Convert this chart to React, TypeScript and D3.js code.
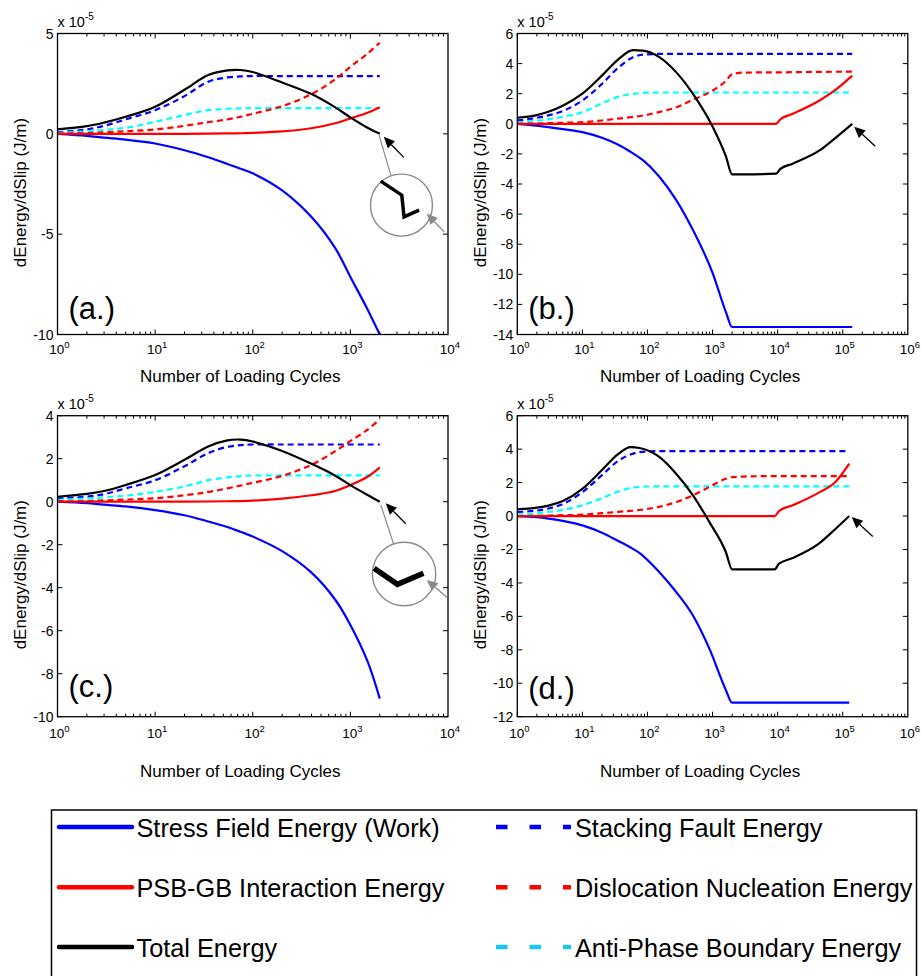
import { useEffect, useRef } from 'react';
import * as d3 from 'd3';

// values are dEnergy/dSlip in units of 1e-5 J/m
const cyclesA = [1, 2, 3, 5, 10, 20, 35, 55, 75, 100, 200, 400, 700, 1000, 1500, 2000];
const stressA = [0, -0.1, -0.19, -0.29, -0.48, -0.82, -1.17, -1.5, -1.74, -1.97, -2.82, -4.15, -5.7, -7.13, -8.75, -10];
const psbA = [0, 0, 0, 0, 0, 0, 0.01, 0.02, 0.03, 0.05, 0.12, 0.28, 0.53, 0.77, 1.05, 1.32];
const totalA = [0.22, 0.38, 0.56, 0.85, 1.35, 2.2, 2.93, 3.16, 3.18, 3.08, 2.56, 1.98, 1.32, 0.82, 0.3, 0];
const sfA = [0.08, 0.22, 0.4, 0.72, 1.18, 1.88, 2.6, 2.81, 2.86, 2.88, 2.88, 2.88, 2.88, 2.88, 2.88, 2.88];
const dnA = [0, 0.04, 0.08, 0.13, 0.22, 0.4, 0.58, 0.72, 0.85, 1.0, 1.38, 1.98, 2.72, 3.34, 4.0, 4.54];
const apbA = [0.05, 0.12, 0.2, 0.3, 0.6, 0.94, 1.18, 1.25, 1.27, 1.28, 1.28, 1.28, 1.28, 1.28, 1.28, 1.28];

const cyclesB = [1, 2, 3, 5, 10, 20, 35, 60, 85, 150, 280, 500, 1000, 1600, 2000, 3000, 9500, 11000, 17000, 44000, 80000, 140000];
const stressB = [0, -0.13, -0.22, -0.35, -0.55, -0.93, -1.38, -1.97, -2.42, -3.48, -5.1, -7.06, -9.9, -12.5, -13.5, -13.5, -13.5, -13.5, -13.5, -13.5, -13.5, -13.5];
const psbB = [0, 0, 0, 0, 0, 0, 0, 0, 0, 0, 0, 0, 0, 0, 0, 0, 0, 0.3, 0.66, 1.55, 2.3, 3.2];
const totalB = [0.4, 0.58, 0.8, 1.2, 2.0, 3.2, 4.25, 4.9, 4.86, 4.45, 3.4, 1.99, -0.18, -2.15, -3.36, -3.36, -3.31, -3.0, -2.65, -1.77, -0.88, 0];
const sfB = [0.22, 0.4, 0.56, 0.85, 1.55, 2.65, 3.7, 4.42, 4.6, 4.64, 4.64, 4.64, 4.64, 4.64, 4.64, 4.64, 4.64, 4.64, 4.64, 4.64, 4.64, 4.64];
const dnB = [0, 0.02, 0.04, 0.07, 0.11, 0.22, 0.34, 0.46, 0.55, 0.78, 1.1, 1.6, 2.2, 2.85, 3.3, 3.4, 3.42, 3.42, 3.43, 3.45, 3.46, 3.47];
const apbB = [0.09, 0.2, 0.3, 0.47, 0.77, 1.36, 1.79, 1.99, 2.05, 2.08, 2.08, 2.08, 2.08, 2.08, 2.08, 2.08, 2.08, 2.08, 2.08, 2.08, 2.08, 2.08];

const cyclesC = [1, 2, 3, 5, 10, 20, 35, 55, 75, 100, 200, 400, 700, 1000, 1500, 2000];
const stressC = [0, -0.07, -0.14, -0.22, -0.39, -0.63, -0.92, -1.18, -1.4, -1.62, -2.3, -3.3, -4.56, -5.73, -7.43, -9.16];
const psbC = [0, 0, 0, 0, 0, 0, 0.01, 0.02, 0.03, 0.05, 0.14, 0.3, 0.5, 0.77, 1.16, 1.6];
const totalC = [0.23, 0.36, 0.5, 0.78, 1.24, 1.95, 2.57, 2.85, 2.89, 2.8, 2.36, 1.76, 1.21, 0.77, 0.31, 0];
const sfC = [0.15, 0.24, 0.35, 0.62, 1.0, 1.65, 2.26, 2.55, 2.63, 2.66, 2.66, 2.66, 2.66, 2.66, 2.66, 2.66];
const dnC = [0, 0.03, 0.06, 0.1, 0.16, 0.3, 0.45, 0.62, 0.75, 0.88, 1.2, 1.72, 2.35, 2.82, 3.35, 3.84];
const apbC = [0.08, 0.15, 0.2, 0.28, 0.46, 0.71, 1.0, 1.13, 1.19, 1.22, 1.22, 1.22, 1.22, 1.22, 1.22, 1.22];

const cyclesD = [1, 2, 3, 5, 10, 20, 35, 55, 75, 150, 280, 500, 900, 1600, 2000, 3000, 9000, 10500, 17000, 43000, 78000, 126000];
const stressD = [0, -0.07, -0.15, -0.29, -0.56, -1.0, -1.48, -1.88, -2.2, -3.33, -4.57, -5.95, -7.96, -10.4, -11.16, -11.16, -11.16, -11.16, -11.16, -11.16, -11.16, -11.16];
const psbD = [0, 0, 0, 0, 0, 0, 0, 0, 0, 0, 0, 0, 0, 0, 0, 0, 0, 0.3, 0.64, 1.4, 2.05, 3.13];
const totalD = [0.4, 0.5, 0.62, 0.9, 1.63, 2.75, 3.68, 4.12, 4.07, 3.55, 2.5, 1.24, -0.38, -2.15, -3.19, -3.19, -3.19, -2.85, -2.51, -1.65, -0.76, 0];
const sfD = [0.24, 0.33, 0.45, 0.72, 1.43, 2.45, 3.28, 3.68, 3.82, 3.88, 3.88, 3.88, 3.88, 3.88, 3.88, 3.88, 3.88, 3.88, 3.88, 3.88, 3.88, 3.88];
const dnD = [0, 0.01, 0.03, 0.05, 0.08, 0.17, 0.25, 0.31, 0.36, 0.55, 0.84, 1.24, 1.75, 2.23, 2.33, 2.36, 2.39, 2.39, 2.39, 2.39, 2.39, 2.39];
const apbD = [0.08, 0.16, 0.24, 0.37, 0.64, 1.07, 1.45, 1.68, 1.75, 1.77, 1.77, 1.77, 1.77, 1.77, 1.77, 1.77, 1.77, 1.77, 1.77, 1.77, 1.77, 1.77];

const legendLabels = [
  'Stress Field Energy (Work)',
  'PSB-GB Interaction Energy',
  'Total Energy',
  'Stacking Fault Energy',
  'Dislocation Nucleation Energy',
  'Anti-Phase Boundary Energy',
];

const FONT = 'Liberation Sans, Arial, Helvetica, sans-serif';
const BLUE = '#0000ff';
const RED = '#ff0000';
const CYAN = '#00ffff';

const panels = [
  { tag: '(a.)', left: 57.5, top: 33.5, xs: cyclesA, maxExp: 4, yDomain: [-10, 5], yStep: 5,
    s: [stressA, psbA, totalA, sfA, dnA, apbA], inset: 'a', tickDy: 19.5, titleY: 382, tagY: 319 },
  { tag: '(b.)', left: 517.3, top: 33.5, xs: cyclesB, maxExp: 6, yDomain: [-14, 6], yStep: 2,
    s: [stressB, psbB, totalB, sfB, dnB, apbB], inset: null, tickDy: 19.5, titleY: 382, tagY: 319 },
  { tag: '(c.)', left: 57.5, top: 415.7, xs: cyclesC, maxExp: 4, yDomain: [-10, 4], yStep: 2,
    s: [stressC, psbC, totalC, sfC, dnC, apbC], inset: 'c', tickDy: 21.5, titleY: 777, tagY: 697 },
  { tag: '(d.)', left: 517.3, top: 415.7, xs: cyclesD, maxExp: 6, yDomain: [-12, 6], yStep: 2,
    s: [stressD, psbD, totalD, sfD, dnD, apbD], inset: null, tickDy: 21.5, titleY: 777, tagY: 699 },
];

const arrow = (g, tip, tail, color, width, len, half) => {
  const dx = tip[0] - tail[0];
  const dy = tip[1] - tail[1];
  const d = Math.hypot(dx, dy);
  const ux = dx / d;
  const uy = dy / d;
  const bx = tip[0] - ux * len;
  const by = tip[1] - uy * len;
  g.append('line')
    .attr('x1', tail[0]).attr('y1', tail[1])
    .attr('x2', bx).attr('y2', by)
    .attr('stroke', color).attr('stroke-width', width);
  g.append('path')
    .attr('d', `M${tip[0]},${tip[1]}L${bx - uy * half},${by + ux * half}L${bx + uy * half},${by - ux * half}Z`)
    .attr('fill', color);
};

const App = () => {
  const svgRef = useRef(null);

  useEffect(() => {
    const svg = d3.select(svgRef.current);
    svg.selectAll('*').remove();
    const W = 390.5;
    const H = 301;

    panels.forEach((p) => {
      const x = d3.scaleLog().domain([1, 10 ** p.maxExp]).range([p.left, p.left + W]);
      const y = d3.scaleLinear().domain(p.yDomain).range([p.top + H, p.top]);
      const g = svg.append('g');
      const bottom = p.top + H;
      const right = p.left + W;

      // minor + major x ticks (inside, top and bottom)
      for (let e = 0; e < p.maxExp; e++) {
        for (let k = 1; k <= 9; k++) {
          const v = k * 10 ** e;
          const len = k === 1 ? 5 : 3;
          const px = x(v);
          g.append('line').attr('x1', px).attr('x2', px).attr('y1', bottom).attr('y2', bottom - len)
            .attr('stroke', '#000').attr('stroke-width', 1);
          g.append('line').attr('x1', px).attr('x2', px).attr('y1', p.top).attr('y2', p.top + len)
            .attr('stroke', '#000').attr('stroke-width', 1);
        }
      }
      d3.range(0, p.maxExp + 1).forEach((e) => {
        const t = g.append('text')
          .attr('x', x(10 ** e) + 2)
          .attr('y', bottom + p.tickDy)
          .attr('text-anchor', 'middle')
          .attr('font-family', FONT)
          .attr('font-size', 13.5);
        t.append('tspan').text('10');
        t.append('tspan').attr('dy', -6.5).attr('font-size', 9.5).text(String(e));
      });

      const yTicks = d3.range(p.yDomain[0], p.yDomain[1] + 0.001, p.yStep);
      yTicks.forEach((v) => {
        const py = y(v);
        g.append('line').attr('x1', p.left).attr('x2', p.left + 5).attr('y1', py).attr('y2', py)
          .attr('stroke', '#000').attr('stroke-width', 1);
        g.append('line').attr('x1', right).attr('x2', right - 5).attr('y1', py).attr('y2', py)
          .attr('stroke', '#000').attr('stroke-width', 1);
        g.append('text')
          .attr('x', p.left - 4)
          .attr('y', py + 5)
          .attr('text-anchor', 'end')
          .attr('font-family', FONT)
          .attr('font-size', 14)
          .text(String(v));
      });

      // exponent label
      const ex = g.append('text')
        .attr('x', p.left)
        .attr('y', p.top - 6.5)
        .attr('font-family', FONT)
        .attr('font-size', 14.5);
      ex.append('tspan').text('x 10');
      ex.append('tspan').attr('dy', -7).attr('font-size', 10).text('-5');

      // data: smooth curves for the short runs, monotone for the ones with corners
      const line = d3.line()
        .x((d) => x(d[0]))
        .y((d) => y(d[1]))
        .curve(p.maxExp === 4 ? d3.curveCatmullRom.alpha(0.5) : d3.curveMonotoneX);
      const [stress, psb, total, sf, dn, apb] = p.s;
      const series = [
        { v: sf, c: BLUE, dash: '6,4' },
        { v: apb, c: CYAN, dash: '6,4' },
        { v: dn, c: RED, dash: '6,4' },
        { v: stress, c: BLUE, dash: null },
        { v: psb, c: RED, dash: null },
        { v: total, c: '#000', dash: null },
      ];
      series.forEach((s) => {
        g.append('path')
          .datum(p.xs.map((c, i) => [c, s.v[i]]))
          .attr('d', line)
          .attr('fill', 'none')
          .attr('stroke', s.c)
          .attr('stroke-width', 2.2)
          .attr('stroke-dasharray', s.dash);
      });

      // frame
      g.append('rect')
        .attr('x', p.left).attr('y', p.top)
        .attr('width', W).attr('height', H)
        .attr('fill', 'none').attr('stroke', '#000').attr('stroke-width', 1.3);

      // axis titles and panel tag
      g.append('text')
        .attr('x', p.left + W / 2 - 12.5)
        .attr('y', p.titleY)
        .attr('text-anchor', 'middle')
        .attr('font-family', FONT)
        .attr('font-size', 17)
        .text('Number of Loading Cycles');
      g.append('text')
        .attr('transform', `translate(${p.left - 31.5},${p.top + H / 2 + 8.5}) rotate(-90)`)
        .attr('text-anchor', 'middle')
        .attr('font-family', FONT)
        .attr('font-size', 17)
        .text('dEnergy/dSlip (J/m)');
      g.append('text')
        .attr('x', p.left + 11)
        .attr('y', p.tagY)
        .attr('font-family', FONT)
        .attr('font-size', 31)
        .text(p.tag);

      // arrow at the end of the total energy curve
      const n = p.xs.length - 1;
      const ex0 = x(p.xs[n]);
      const ey0 = y(total[n]);
      if (p.inset) {
        const big = p.inset === 'a';
        const tipOff = big ? [4, 3] : [6, 1.6];
        arrow(g, [ex0 + tipOff[0], ey0 + tipOff[1]], [ex0 + tipOff[0] + 20, ey0 + tipOff[1] + 20.5], '#000', 1.3, 11, 5);
        const cx = ex0 + (big ? 21.7 : 24.3);
        const cy = ey0 + (big ? 71.3 : 72.3);
        const r = big ? 31 : 31.7;
        g.append('line')
          .attr('x1', ex0 + (big ? -0.7 : 1)).attr('y1', ey0 + (big ? 1.3 : 3.3))
          .attr('x2', cx - 10.5).attr('y2', cy - r + 1.5)
          .attr('stroke', '#8a8a8a').attr('stroke-width', 1.2);
        g.append('circle')
          .attr('cx', cx).attr('cy', cy).attr('r', r)
          .attr('fill', '#fff').attr('stroke', '#8a8a8a').attr('stroke-width', 1.4);
        const zig = big
          ? [[-20.7, -24], [0.3, -10], [2.6, 11.7], [17.6, 5]]
          : [[-30, -5.7], [-6.6, 10.3], [19.4, -0.7]];
        g.append('path')
          .attr('d', d3.line()(zig.map((q) => [cx + q[0], cy + q[1]])))
          .attr('fill', 'none')
          .attr('stroke', '#000')
          .attr('stroke-width', big ? 3.5 : 5.5);
        arrow(g, [cx + (big ? 25.3 : 22.7), cy + (big ? 8.3 : 6)], [cx + (big ? 42.6 : 43.4), cy + (big ? 26.7 : 23.7)], '#8a8a8a', 1.3, 11, 5);
      } else {
        const tipOff = p.tag === '(b.)' ? [2, 3] : [2.5, 1];
        arrow(g, [ex0 + tipOff[0], ey0 + tipOff[1]], [ex0 + tipOff[0] + 21, ey0 + tipOff[1] + 19.5], '#000', 1.3, 11, 5);
      }
    });

    // legend
    const lg = svg.append('g');
    lg.append('rect')
      .attr('x', 51.5).attr('y', 810)
      .attr('width', 865).attr('height', 200)
      .attr('fill', '#fff').attr('stroke', '#000').attr('stroke-width', 1.5);
    const rows = [827, 887.3, 947];
    const legendColors = [BLUE, RED, '#000', BLUE, RED, '#1ec6ef'];
    legendLabels.forEach((label, i) => {
      const col = i < 3 ? 0 : 1;
      const ry = rows[i % 3];
      const x1 = col === 0 ? 59 : 496;
      const x2 = col === 0 ? 132 : 571;
      lg.append('line')
        .attr('x1', x1).attr('x2', x2).attr('y1', ry).attr('y2', ry)
        .attr('stroke', legendColors[i])
        .attr('stroke-width', 4.5)
        .attr('stroke-linecap', col === 0 ? 'round' : 'butt')
        .attr('stroke-dasharray', col === 0 ? null : '11.5,22');
      lg.append('text')
        .attr('x', col === 0 ? 136.5 : 575)
        .attr('y', ry + 9.7)
        .attr('font-family', FONT)
        .attr('font-size', 25.3)
        .text(label);
    });
  }, []);

  return (
    <svg
      ref={svgRef}
      width="921"
      height="976"
      style={{ position: 'absolute', left: 0, top: 0, background: '#fff' }}
    ></svg>
  );
};

export default App;
